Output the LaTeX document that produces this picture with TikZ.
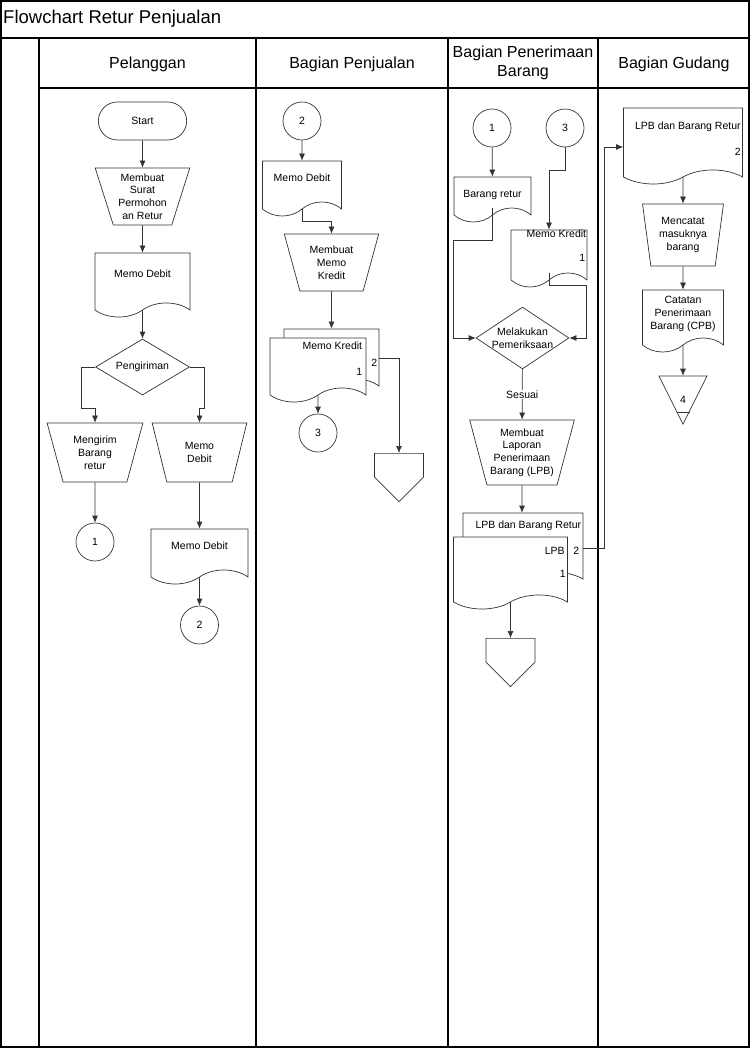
\documentclass[tikz,border=0pt]{standalone}
\usepackage{fontspec}
\setmainfont{Liberation Sans}
\usepackage{tikz}
\usetikzlibrary{shapes.geometric,shapes.symbols,shapes.misc,arrows.meta}

\begin{document}
\begin{tikzpicture}[
    x=1pt, y=-1pt,
    every node/.style={font=\fontsize{10.5}{12.8}\selectfont},
    every label/.style={inner sep=1pt},
    lane/.style={draw=black, line width=1.3pt},
    head/.style={font=\fontsize{16}{19.5}\selectfont, align=center},
    terminal/.style={draw=black!80, rounded rectangle, minimum width=95pt, minimum height=38pt, fill=white, line width=0.7pt},
    manual/.style={draw=black!80, trapezium, shape border rotate=180, trapezium left angle=72, trapezium right angle=72, trapezium stretches=true, minimum width=95pt, minimum height=57pt, inner sep=0pt, align=center, fill=white, line width=0.7pt},
    doc/.style={draw=black!80, tape, tape bend top=none, tape bend bottom=in and out, tape bend height=14pt, minimum width=95pt, minimum height=64pt, text depth=8pt, inner sep=0pt, align=center, fill=white, line width=0.7pt},
    decision/.style={draw=black!80, diamond, minimum width=94pt, minimum height=56pt, inner sep=-5pt, align=center, fill=white, line width=0.7pt},
    connector/.style={draw=black!80, circle, minimum size=38pt, inner sep=0pt, fill=white, line width=0.7pt},
    offpage/.style={draw=black!80, signal, signal to=south, signal from=nowhere, signal pointer angle=90, minimum width=49pt, minimum height=27pt, fill=white, line width=0.7pt},
    storage/.style={draw=black!80, isosceles triangle, isosceles triangle stretches=true, shape border rotate=270, minimum width=48pt, minimum height=48pt, inner sep=0pt, fill=white, line width=0.7pt},
    arrow/.style={-{Latex[length=7pt,width=6pt]}, draw=black!80, line width=0.7pt}
]
    \useasboundingbox (0,0) rectangle (750,1048);

    % Rahmen und Spalten
    \draw [lane, line width=2pt] (1,1) rectangle (749,1047);
    \draw [lane, line width=2.4pt] (1,38) -- (749,38);
    \draw [lane] (39,38) -- (39,1047);
    \draw [lane] (39,88) -- (749,88);
    \draw [lane] (256,38) -- (256,1047);
    \draw [lane] (448,38) -- (448,1047);
    \draw [lane] (598,38) -- (598,1047);

    \node (judul) [anchor=west, inner sep=1pt, font=\fontsize{18.5}{21}\selectfont] at (2,19) {Flowchart Retur Penjualan};
    \node (hpel) [head] at (147.5,64) {Pelanggan};
    \node (hjual) [head] at (352,64) {Bagian Penjualan};
    \node (hterima) [head] at (523,63) {Bagian Penerimaan\\Barang};
    \node (hgudang) [head] at (674,64) {Bagian Gudang};

    % Pelanggan
    \node (start) [terminal] at (142.5,121) {Start};
    \node (mbsurat) [manual] at (142.5,196.5) {Membuat\\Surat\\Permohon\\an Retur};
    \node (memo1) [doc] at (142.5,278) {Memo Debit};
    \node (kirim) [decision] at (142.5,367) {Pengiriman};
    \node (mengirim) [manual, minimum width=96pt, minimum height=59pt] at (95,452.5) {Mengirim\\Barang\\retur};
    \node (memotrap) [manual, minimum height=59pt] at (199.5,452.5) {Memo\\Debit};
    \node (c1a) [connector] at (95,542) {1};
    \node (memo2) [doc, minimum width=97pt, minimum height=55pt] at (199.5,549.5) {Memo Debit};
    \node (c2a) [connector] at (199.5,625) {2};

    % Bagian Penjualan
    \node (c2b) [connector] at (302,121) {2};
    \node (memo3) [doc, minimum width=79pt, minimum height=55pt] at (302,181.5) {Memo Debit};
    \node (mbkredit) [manual] at (331.5,262.5) {Membuat\\Memo\\Kredit};
    \node (mk2) [doc, label={[anchor=east, xshift=-1pt, yshift=-9pt]east:2}] at (331.5,354) {};
    \node (mk1) [doc, minimum width=96pt,
        label={[anchor=north east, xshift=-3pt, yshift=-3pt]north east:Memo Kredit},
        label={[anchor=east, xshift=-3pt, yshift=-9pt]east:1}] at (318,363) {};
    \node (c3a) [connector] at (318,433) {3};
    \node (off1) [offpage, anchor=north] at (399,453) {};

    % Bagian Penerimaan Barang
    \node (c1b) [connector] at (492,128) {1};
    \node (c3b) [connector] at (565,128) {3};
    \node (retur) [doc, minimum width=77pt, minimum height=45pt, text height=12pt, text depth=2pt] at (492.5,192.5) {Barang retur};
    \node (mk3) [doc, minimum width=76pt, minimum height=57pt,
        label={[anchor=north east, yshift=1pt]north east:Memo Kredit},
        label={[anchor=east, xshift=-1pt, yshift=-6.5pt]east:1}] at (549,251.5) {};
    \node (periksa) [decision, minimum width=93pt, minimum height=58pt] at (522.5,338) {Melakukan\\Pemeriksaan};
    \node (lpbproc) [manual, minimum width=105pt, minimum height=65pt] at (522,452.5) {Membuat\\Laporan\\Penerimaan\\Barang (LPB)};
    \node (lpb2) [doc, minimum width=120pt, minimum height=73pt,
        label={[anchor=north east, xshift=-1pt, yshift=-7pt]north east:LPB dan Barang Retur},
        label={[anchor=east, xshift=-3pt, yshift=-8.5pt]east:2}] at (523,542.5) {};
    \node (lpb1) [doc, minimum width=114pt, minimum height=72pt,
        label={[anchor=north east, xshift=-2pt, yshift=-9pt]north east:LPB},
        label={[anchor=east, xshift=-1pt, yshift=-8pt]east:1}] at (510.5,566) {};
    \node (off2) [offpage, anchor=north] at (510.5,638) {};

    % Bagian Gudang
    \node (lpbg) [doc, minimum width=119pt, minimum height=76pt,
        label={[anchor=north east, xshift=-1pt, yshift=-13pt]north east:LPB dan Barang Retur},
        label={[anchor=east, xshift=-1pt, yshift=-13pt]east:2}] at (683,139) {};
    \node (catat) [manual, minimum width=81pt, minimum height=62pt, trapezium left angle=80, trapezium right angle=80] at (683,235) {Mencatat\\masuknya\\barang};
    \node (cpb) [doc, minimum width=81pt, minimum height=62pt, text depth=2pt] at (683,314) {Catatan\\Penerimaan\\Barang (CPB)};
    \node (store) [storage, anchor=apex] at (683,425) {};
    \node (nr4) at ([yshift=25pt]store.apex) {4};
    \draw [draw=black!80, line width=0.7pt] (store.apex) ++(-6.5,-13) -- ++(13,0);

    % Pfeile Pelanggan
    \draw [arrow] (start) -- (mbsurat);
    \draw [arrow] (mbsurat) -- (memo1);
    \draw [arrow] (memo1) -- (kirim);
    \draw [arrow] (kirim.west) -- ++(-14,0) |- ([yshift=14pt]mengirim.north) -- (mengirim.north);
    \draw [arrow] (kirim.east) -- ++(14,0) |- ([yshift=14pt]memotrap.north) -- (memotrap.north);
    \draw [arrow] (mengirim) -- (c1a);
    \draw [arrow] (memotrap) -- (memo2);
    \draw [arrow] (memo2) -- (c2a);

    % Pfeile Bagian Penjualan
    \draw [arrow] (c2b) -- (memo3);
    \draw [arrow] (memo3) |- ([yshift=12pt]mbkredit.north) -- (mbkredit.north);
    \draw [arrow] (mbkredit) -- (mk2);
    \draw [arrow] ([yshift=-4pt]mk2.east) -| (off1.north);
    \draw [arrow] (mk1) -- (c3a);

    % Pfeile Bagian Penerimaan Barang
    \draw [arrow] (c1b) -- (retur);
    \draw [arrow] (c3b.south) -- ++(0,23) -| (mk3.north);
    \draw [arrow] (retur.south) -- ++(0,32) -| ([xshift=-22pt]periksa.west) -- (periksa.west);
    \draw [arrow] (mk3.south) -- ++(0,12) -| ([xshift=17pt]periksa.east) -- (periksa.east);
    \draw [arrow] (periksa) -- node [fill=white, inner sep=1pt] {Sesuai} (lpbproc);
    \draw [arrow] (lpbproc) -- (lpbproc |- lpb2.north);
    \draw [arrow] ([yshift=-5.5pt]lpb2.east) -- ++(21,0) |- ([yshift=-8pt]lpbg.west);
    \draw [arrow] (lpb1) -- (off2);

    % Pfeile Bagian Gudang
    \draw [arrow] (lpbg) -- (catat);
    \draw [arrow] (catat) -- (cpb);
    \draw [arrow] (cpb) -- (store);

\end{tikzpicture}
\end{document}
